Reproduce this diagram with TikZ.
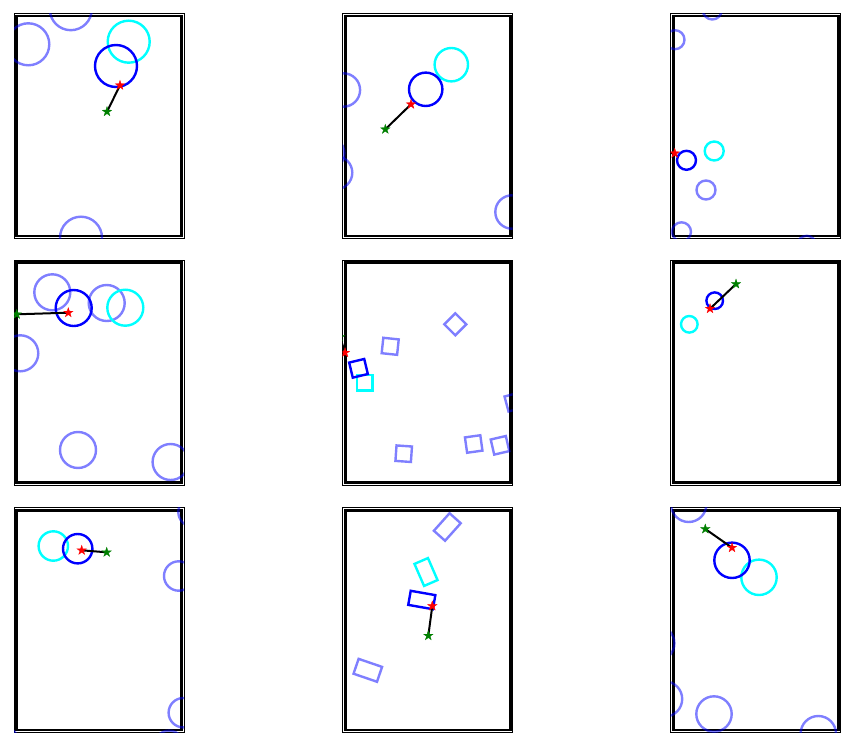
\documentclass[tikz,border=0pt]{standalone}
\usetikzlibrary{shapes.geometric}
\definecolor{aqua}{RGB}{0,255,255}
\definecolor{pureblue}{RGB}{0,0,255}
\definecolor{darkgreen}{RGB}{0,128,0}
\definecolor{purered}{RGB}{255,0,0}
\tikzset{
  frameout/.style={draw=black, line width=0.9pt},
  framein/.style={draw=black, line width=2.8pt},
  obst/.style={draw=pureblue, draw opacity=0.5, line width=2.4pt},
  goalshape/.style={draw=aqua, line width=2.4pt},
  robot/.style={draw=pureblue, line width=2.4pt},
  link/.style={draw=black, line width=2pt},
  starbase/.style={star, star points=5, star point ratio=2.6, minimum size=10pt, inner sep=0pt, line width=0.3pt},
  rstar/.style={starbase, fill=purered, draw=purered},
  gstar/.style={starbase, fill=darkgreen, draw=darkgreen},
  panelframe/.pic={
    \draw[frameout] (0,0) rectangle (170,225.4);
    \draw[framein] (2.5,2.8) rectangle (167.5,222.7);
  }
}
\begin{document}
\begin{tikzpicture}[x=1pt,y=-1pt]
\useasboundingbox (0,0) rectangle (853,746);
\fill[white] (0,0) rectangle (853,746);

% ---------- Panel 1 ----------
\begin{scope}[shift={(14,13.3)}]
  \pic {panelframe};
  \begin{scope}
    \clip (0,0) rectangle (170,225.4);
    \draw[obst] (14.3,31) circle[radius=21pt];
    \draw[obst] (56.8,-4.1) circle[radius=21pt];
    \draw[obst] (67,224.4) circle[radius=21pt];
    \draw[goalshape] (114.7,28.4) circle[radius=21pt];
    \draw[robot] (102,52.7) circle[radius=21pt];
    \coordinate (g1) at (93,98.4);
    \coordinate (r1) at (106,72);
    \draw[link] (g1) -- (r1);
    \node[gstar] (gs1) at (g1) {};
    \node[rstar] (rs1) at (r1) {};
  \end{scope}
\end{scope}

% ---------- Panel 2 ----------
\begin{scope}[shift={(342.7,13.3)}]
  \pic {panelframe};
  \begin{scope}
    \clip (0,0) rectangle (170,225.4);
    \draw[obst] (0.7,76.7) circle[radius=16.7pt];
    \draw[obst] (-15,140) circle[radius=16.7pt];
    \draw[obst] (-7.1,159.4) circle[radius=16.7pt];
    \draw[obst] (169.3,198.7) circle[radius=16.7pt];
    \draw[goalshape] (108.6,51.4) circle[radius=16.7pt];
    \draw[robot] (83,76) circle[radius=16.7pt];
    \coordinate (g2) at (42.6,116);
    \coordinate (r2) at (68.3,91);
    \draw[link] (g2) -- (r2);
    \node[gstar] (gs2) at (g2) {};
    \node[rstar] (rs2) at (r2) {};
  \end{scope}
\end{scope}

% ---------- Panel 3 ----------
\begin{scope}[shift={(670.7,13.3)}]
  \pic {panelframe};
  \begin{scope}
    \clip (0,0) rectangle (170,225.4);
    \draw[obst] (41.6,-3.3) circle[radius=9.5pt];
    \draw[obst] (4.3,26.4) circle[radius=9.5pt];
    \draw[obst] (35.3,176.7) circle[radius=9.5pt];
    \draw[obst] (10.8,218.5) circle[radius=9.5pt];
    \draw[obst] (136,232) circle[radius=9.5pt];
    \draw[goalshape] (43.5,137.7) circle[radius=9.5pt];
    \draw[robot] (15.8,147) circle[radius=9.5pt];
    \coordinate (g3) at (-8,139);
    \coordinate (r3) at (4,140);
    \draw[link] (g3) -- (r3);
    \node[gstar] (gs3) at (g3) {};
    \node[rstar] (rs3) at (r3) {};
  \end{scope}
\end{scope}

% ---------- Panel 4 ----------
\begin{scope}[shift={(14,260)}]
  \pic {panelframe};
  \begin{scope}
    \clip (0,0) rectangle (170,225.4);
    \draw[obst] (38.3,32.3) circle[radius=18pt];
    \draw[obst] (92.7,43) circle[radius=18pt];
    \draw[obst] (6.3,93.3) circle[radius=18pt];
    \draw[obst] (64,190) circle[radius=18pt];
    \draw[obst] (156.6,202) circle[radius=18pt];
    \draw[goalshape] (111.3,47.7) circle[radius=18pt];
    \draw[robot] (59.7,48) circle[radius=18pt];
    \coordinate (g4) at (2.7,54.3);
    \coordinate (r4) at (54.3,52.7);
    \draw[link] (g4) -- (r4);
    \node[gstar] (gs4) at (g4) {};
    \node[rstar] (rs4) at (r4) {};
  \end{scope}
\end{scope}

% ---------- Panel 5 ----------
\begin{scope}[shift={(342.7,260)}]
  \pic {panelframe};
  \begin{scope}
    \clip (0,0) rectangle (170,225.4);
    \draw[obst, shift={(112.6,64.3)}, rotate=45] (-7.75,-7.75) rectangle (7.75,7.75);
    \draw[obst, shift={(47.5,86.3)}, rotate=-6] (-7.75,-7.75) rectangle (7.75,7.75);
    \draw[obst, shift={(171.3,142)}, rotate=15] (-7.75,-7.75) rectangle (7.75,7.75);
    \draw[obst, shift={(61,193.7)}, rotate=-4] (-7.75,-7.75) rectangle (7.75,7.75);
    \draw[obst, shift={(131,184)}, rotate=8] (-7.75,-7.75) rectangle (7.75,7.75);
    \draw[obst, shift={(157.3,185.3)}, rotate=13] (-7.75,-7.75) rectangle (7.75,7.75);
    \draw[goalshape, shift={(22,122.7)}] (-7.75,-7.75) rectangle (7.75,7.75);
    \draw[robot, shift={(15.8,108.3)}, rotate=13.5] (-7.75,-7.75) rectangle (7.75,7.75);
    \coordinate (g5) at (-2.7,77);
    \coordinate (r5) at (2.3,92.7);
    \draw[link] (g5) -- (r5);
    \node[gstar] (gs5) at (g5) {};
    \node[rstar] (rs5) at (r5) {};
  \end{scope}
\end{scope}

% ---------- Panel 6 ----------
\begin{scope}[shift={(670.7,260)}]
  \pic {panelframe};
  \begin{scope}
    \clip (0,0) rectangle (170,225.4);
    \draw[goalshape] (18.6,64.3) circle[radius=8.3pt];
    \draw[robot] (44,40.7) circle[radius=8.3pt];
    \coordinate (g6) at (65.3,24);
    \coordinate (r6) at (39.3,48.7);
    \draw[link] (g6) -- (r6);
    \node[gstar] (gs6) at (g6) {};
    \node[rstar] (rs6) at (r6) {};
  \end{scope}
\end{scope}

% ---------- Panel 7 ----------
\begin{scope}[shift={(14,507.3)}]
  \pic {panelframe};
  \begin{scope}
    \clip (0,0) rectangle (170,225.4);
    \draw[obst] (164.7,68.7) circle[radius=14.7pt];
    \draw[obst] (179,4.7) circle[radius=14.7pt];
    \draw[obst] (169.3,205.4) circle[radius=14.7pt];
    \draw[obst] (155,238) circle[radius=14.7pt];
    \draw[obst] (-10,234.7) circle[radius=14.7pt];
    \draw[goalshape] (39.3,38.7) circle[radius=14.7pt];
    \draw[robot] (63.7,41.4) circle[radius=14.7pt];
    \coordinate (g7) at (92.7,45);
    \coordinate (r7) at (67.7,43);
    \draw[link] (g7) -- (r7);
    \node[gstar] (gs7) at (g7) {};
    \node[rstar] (rs7) at (r7) {};
  \end{scope}
\end{scope}

% ---------- Panel 8 ----------
\begin{scope}[shift={(342.7,507.3)}]
  \pic {panelframe};
  \begin{scope}
    \clip (0,0) rectangle (170,225.4);
    \draw[obst, shift={(104.6,19.7)}, rotate=-41.8] (-7.5,-11.75) rectangle (7.5,11.75);
    \draw[obst, shift={(25.1,163)}, rotate=-18.9] (-12.4,-7.85) rectangle (12.4,7.85);
    \draw[goalshape, shift={(83.3,64.7)}, rotate=23.5] (-7.35,-12) rectangle (7.35,12);
    \draw[robot, shift={(79.1,92.7)}, rotate=-10] (-12.5,-7.15) rectangle (12.5,7.15);
    \coordinate (g8) at (85.6,128.4);
    \coordinate (r8) at (89.6,98.7);
    \draw[link] (g8) -- (r8);
    \node[gstar] (gs8) at (g8) {};
    \node[rstar] (rs8) at (r8) {};
  \end{scope}
\end{scope}

% ---------- Panel 9 ----------
\begin{scope}[shift={(670.7,507.3)}]
  \pic {panelframe};
  \begin{scope}
    \clip (0,0) rectangle (170,225.4);
    \draw[obst] (18,-3) circle[radius=17.7pt];
    \draw[obst] (-14,136) circle[radius=17.7pt];
    \draw[obst] (-6.2,191.7) circle[radius=17.7pt];
    \draw[obst] (43.3,206.7) circle[radius=17.7pt];
    \draw[obst] (147.6,226.4) circle[radius=17.7pt];
    \draw[goalshape] (88.3,70) circle[radius=17.7pt];
    \draw[robot] (61.3,53) circle[radius=17.7pt];
    \coordinate (g9) at (34.6,21.7);
    \coordinate (r9) at (61.3,40.4);
    \draw[link] (g9) -- (r9);
    \node[gstar] (gs9) at (g9) {};
    \node[rstar] (rs9) at (r9) {};
  \end{scope}
\end{scope}
\end{tikzpicture}
\end{document}
